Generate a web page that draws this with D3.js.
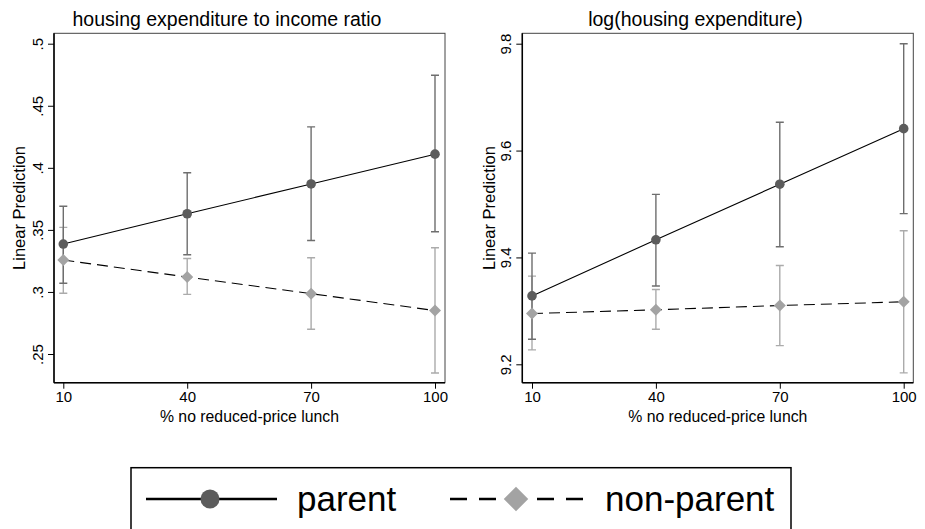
<!DOCTYPE html>
<html>
<head>
<meta charset="utf-8">
<script src="https://cdn.jsdelivr.net/npm/d3@7"></script>
<style>
  body { margin: 0; background: #fff; }
  svg { display: block; font-family: "Liberation Sans", Arial, sans-serif; }
</style>
</head>
<body>
<svg width="925" height="529"></svg>
<script>
// data
const lunch = [10, 40, 70, 100];

const ratioParent = [0.3386, 0.363, 0.387, 0.411];
const ratioParentLo = [0.307, 0.330, 0.3415, 0.3485];
const ratioParentHi = [0.369, 0.396, 0.433, 0.4746];
const ratioNon = [0.3257, 0.312, 0.2986, 0.285];
const ratioNonLo = [0.299, 0.298, 0.270, 0.2347];
const ratioNonHi = [0.352, 0.327, 0.3276, 0.3356];

const logParent = [9.328, 9.433, 9.537, 9.641];
const logParentLo = [9.247, 9.3465, 9.42, 9.482];
const logParentHi = [9.408, 9.518, 9.653, 9.80];
const logNon = [9.295, 9.302, 9.31, 9.317];
const logNonLo = [9.227, 9.2655, 9.235, 9.184];
const logNonHi = [9.365, 9.340, 9.385, 9.45];

const ratioTicks = [0.25, 0.3, 0.35, 0.4, 0.45, 0.5];
const ratioTickLabels = ['.25', '.3', '.35', '.4', '.45', '.5'];
const logTicks = [9.2, 9.4, 9.6, 9.8];
const logTickLabels = ['9.2', '9.4', '9.6', '9.8'];

const titles = ['housing expenditure to income ratio', 'log(housing expenditure)'];
const seriesNames = ['parent', 'non-parent'];

const parentLine = '#000';
const parentMark = '#5c5c5c';
const parentBar = '#6e6e6e';
const nonMark = '#a3a3a3';
const nonBar = '#ababab';

const svg = d3.select('svg');

const panels = [
  {
    title: titles[0], boxL: 54, boxR: 445, xr: [63.3, 435],
    yd: [0.25, 0.5], yr: [354, 43.7], ticks: ratioTicks, labels: ratioTickLabels,
    labelX: 43, ytitleX: 25, titleX: 227,
    parent: ratioParent, parentLo: ratioParentLo, parentHi: ratioParentHi,
    non: ratioNon, nonLo: ratioNonLo, nonHi: ratioNonHi
  },
  {
    title: titles[1], boxL: 522.3, boxR: 913.3, xr: [532, 903.7],
    yd: [9.2, 9.8], yr: [364.3, 43.7], ticks: logTicks, labels: logTickLabels,
    labelX: 511, ytitleX: 495, titleX: 695.5,
    parent: logParent, parentLo: logParentLo, parentHi: logParentHi,
    non: logNon, nonLo: logNonLo, nonHi: logNonHi
  }
];

const boxT = 33.3;
const boxB = 382.7;

panels.forEach(p => {
  const x = d3.scaleLinear().domain([10, 100]).range(p.xr);
  const y = d3.scaleLinear().domain(p.yd).range(p.yr);
  const g = svg.append('g');

  // plot region frame
  g.append('rect')
      .attr('x', p.boxL)
      .attr('y', boxT)
      .attr('width', p.boxR - p.boxL)
      .attr('height', boxB - boxT)
      .attr('fill', 'none')
      .attr('stroke', '#444')
      .attr('stroke-width', 1);

  // axes
  const yAxis = d3.axisLeft(y)
      .tickValues(p.ticks)
      .tickFormat((d, i) => p.labels[i])
      .tickSize(6)
      .tickPadding(5);
  const ya = g.append('g')
      .attr('transform', `translate(${p.boxL},0)`)
      .call(yAxis);
  ya.select('.domain').attr('d', `M0,${boxT}V${boxB}`).attr('stroke', '#000').attr('stroke-width', 1.5);
  ya.selectAll('.tick line').attr('stroke', '#000');
  ya.selectAll('.tick text')
      .attr('font-size', 15)
      .attr('fill', '#000')
      .attr('text-anchor', 'middle')
      .attr('x', 0)
      .attr('dy', 0)
      .attr('transform', `translate(${p.labelX - p.boxL},0) rotate(-90)`);

  const xAxis = d3.axisBottom(x)
      .tickValues(lunch)
      .tickFormat(d3.format('d'))
      .tickSize(6)
      .tickPadding(3);
  const xa = g.append('g')
      .attr('transform', `translate(0,${boxB})`)
      .call(xAxis);
  xa.select('.domain').attr('d', `M${p.boxL},0H${p.boxR}`).attr('stroke', '#000').attr('stroke-width', 1.5);
  xa.selectAll('.tick line').attr('stroke', '#000');
  xa.selectAll('.tick text').attr('font-size', 15).attr('fill', '#000');

  // titles
  g.append('text')
      .attr('x', p.titleX)
      .attr('y', 26)
      .attr('text-anchor', 'middle')
      .attr('font-size', 19.5)
      .text(p.title);

  g.append('text')
      .attr('transform', `translate(${p.ytitleX},${(boxT + boxB) / 2}) rotate(-90)`)
      .attr('text-anchor', 'middle')
      .attr('font-size', 16.5)
      .text('Linear Prediction');

  g.append('text')
      .attr('x', (p.boxL + p.boxR) / 2)
      .attr('y', 422)
      .attr('text-anchor', 'middle')
      .attr('font-size', 15.8)
      .text('% no reduced-price lunch');

  // confidence interval caps
  const caps = (lo, hi, color) => {
    lunch.forEach((v, i) => {
      const cx = x(v);
      g.append('path')
          .attr('d', `M${cx},${y(lo[i])}V${y(hi[i])}M${cx - 4},${y(lo[i])}H${cx + 4}M${cx - 4},${y(hi[i])}H${cx + 4}`)
          .attr('fill', 'none')
          .attr('stroke', color)
          .attr('stroke-width', 1.4);
    });
  };
  caps(p.nonLo, p.nonHi, nonBar);
  caps(p.parentLo, p.parentHi, parentBar);

  const line = vals => d3.line().x((d, i) => x(lunch[i])).y(d => y(d))(vals);

  g.append('path')
      .attr('d', line(p.non))
      .attr('fill', 'none')
      .attr('stroke', parentLine)
      .attr('stroke-width', 1.1)
      .attr('stroke-dasharray', '11,6');

  g.append('path')
      .attr('d', line(p.parent))
      .attr('fill', 'none')
      .attr('stroke', parentLine)
      .attr('stroke-width', 1.1);

  g.selectAll(null)
    .data(p.non)
    .join('path')
      .attr('d', d3.symbol(d3.symbolSquare, 72))
      .attr('transform', (d, i) => `translate(${x(lunch[i])},${y(d)}) rotate(45)`)
      .attr('fill', nonMark);

  g.selectAll(null)
    .data(p.parent)
    .join('circle')
      .attr('cx', (d, i) => x(lunch[i]))
      .attr('cy', d => y(d))
      .attr('r', 4.8)
      .attr('fill', parentMark);
});

// legend
const legend = svg.append('g');
legend.append('rect')
    .attr('x', 131)
    .attr('y', 467.7)
    .attr('width', 660)
    .attr('height', 80)
    .attr('fill', 'none')
    .attr('stroke', '#000')
    .attr('stroke-width', 1.5);

const legY = 499;
legend.append('line')
    .attr('x1', 146).attr('x2', 277)
    .attr('y1', legY).attr('y2', legY)
    .attr('stroke', '#000')
    .attr('stroke-width', 2.5);
legend.append('circle')
    .attr('cx', 210).attr('cy', legY)
    .attr('r', 9.5)
    .attr('fill', parentMark);
legend.append('text')
    .attr('x', 297).attr('y', legY + 12)
    .attr('font-size', 35)
    .text(seriesNames[0]);

legend.append('line')
    .attr('x1', 450).attr('x2', 583)
    .attr('y1', legY).attr('y2', legY)
    .attr('stroke', '#000')
    .attr('stroke-width', 2.5)
    .attr('stroke-dasharray', '17,12');
legend.append('path')
    .attr('d', d3.symbol(d3.symbolSquare, 300))
    .attr('transform', `translate(516,${legY}) rotate(45)`)
    .attr('fill', nonMark);
legend.append('text')
    .attr('x', 605).attr('y', legY + 12)
    .attr('font-size', 35)
    .text(seriesNames[1]);
</script>
</body>
</html>
